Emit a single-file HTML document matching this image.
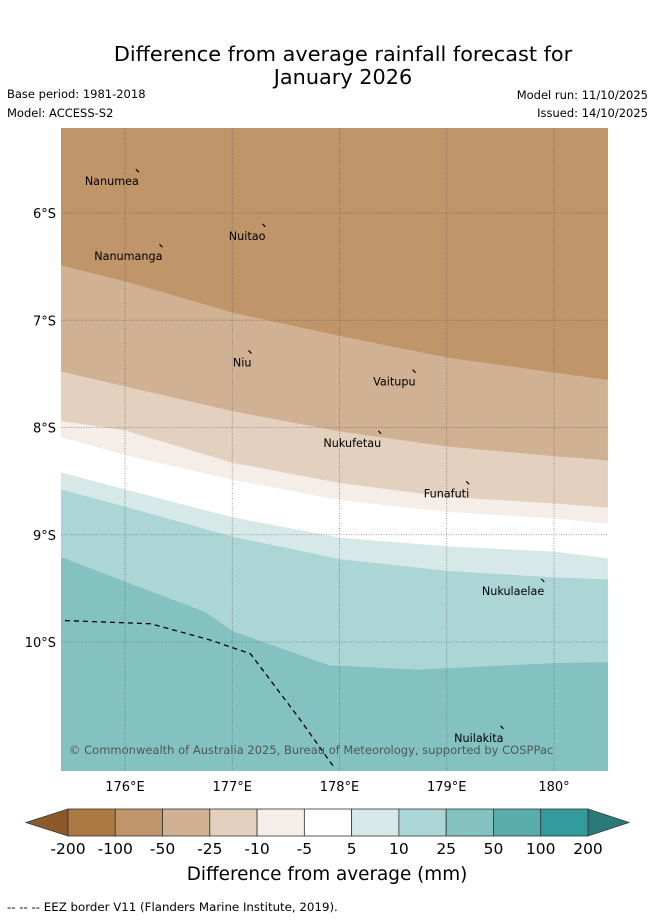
<!DOCTYPE html>
<html><head><meta charset="utf-8">
<style>
body{margin:0;background:#fff;width:655px;height:919px;overflow:hidden;font-family:"Liberation Sans","DejaVu Sans",sans-serif;}
svg text{font-family:"DejaVu Sans","Liberation Sans",sans-serif;}
</style></head>
<body>
<svg id="c" width="655" height="919" xmlns="http://www.w3.org/2000/svg">
<text x="343" y="61" font-size="20.8" text-anchor="middle">Difference from average rainfall forecast for</text>
<text x="343" y="84" font-size="20.8" text-anchor="middle">January 2026</text>
<text x="7" y="98" font-size="11.5">Base period: 1981-2018</text>
<text x="7" y="117" font-size="11.5">Model: ACCESS-S2</text>
<text x="648" y="99" font-size="11.5" text-anchor="end">Model run: 11/10/2025</text>
<text x="648" y="117" font-size="11.5" text-anchor="end">Issued: 14/10/2025</text>
<g id="map"></g>
<g id="legend"></g>
<text x="327" y="880" font-size="18.4" text-anchor="middle">Difference from average (mm)</text>
<text x="7" y="911" font-size="11.8">-- -- -- EEZ border V11 (Flanders Marine Institute, 2019).</text>
</svg>
<script>
const NS="http://www.w3.org/2000/svg";
// data
const lonTicks=[176,177,178,179,180];
const lonLabels=["176°E","177°E","178°E","179°E","180°"];
const latTicks=[6,7,8,9,10];
const latLabels=["6°S","7°S","8°S","9°S","10°S"];
const bLons=[175.4,176,177,178,179,180,180.5];
const boundary1=[6.49,6.64,6.93,7.15,7.35,7.49,7.56];
const boundary2=[7.48,7.62,7.85,8.04,8.18,8.27,8.31];
const boundary3=[7.94,8.03,8.33,8.52,8.65,8.71,8.75];
const boundary4=[8.09,8.26,8.49,8.68,8.79,8.85,8.90];
const boundary5=[8.42,8.58,8.84,9.03,9.11,9.16,9.22];
const boundary6=[8.58,8.74,9.02,9.23,9.34,9.40,9.42];
const lons7=[175.4,176,176.74,177,177.9,178.74,180,180.5];
const boundary7=[9.21,9.44,9.72,9.90,10.22,10.26,10.20,10.19];
const bandColors=["#c0956a","#d1b193","#e3d0be","#f4ede8","#ffffff","#d6e9e8","#acd5d5","#84c2c1"];
const eezLon=[175.44,176.24,176.79,177.17,177.63,177.95];
const eezLat=[9.80,9.83,9.98,10.11,10.72,11.17];
const islands=[["Nanumea",176.12,5.61],["Nuitao",177.3,6.12],["Nanumanga",176.34,6.31],["Niu",177.17,7.3],["Vaitupu",178.7,7.48],["Nukufetau",178.38,8.05],["Funafuti",179.2,8.52],["Nukulaelae",179.9,9.43],["Nuilakita",179.52,10.8]];
const legendVals=["-200","-100","-50","-25","-10","-5","5","10","25","50","100","200"];
const legendColors=["#ad7942","#c0956a","#d1b193","#e3d0be","#f4ede8","#ffffff","#d6e9e8","#acd5d5","#84c2c1","#5aadad","#339b9b"];
// axes
const X0=61,X1=608,Y0=128,Y1=771;
const xs=lon=>125+(lon-176)*107.25;
const ys=lat=>213+(lat-6)*107.25;
function el(t,a,p){const e=document.createElementNS(NS,t);for(const k in a)e.setAttribute(k,a[k]);(p||map).appendChild(e);return e;}
const map=document.getElementById('map');
const cp=el('clipPath',{id:'clip'});el('rect',{x:X0,y:Y0,width:X1-X0,height:Y1-Y0},cp);
const g=el('g',{'clip-path':'url(#clip)'});
const bounds=[null,boundary1,boundary2,boundary3,boundary4,boundary5,boundary6,boundary7];
function linePts(i){if(i===7)return lons7.map((l,j)=>[xs(l),ys(boundary7[j])]);return bLons.map((l,j)=>[xs(l),ys(bounds[i][j])]);}
for(let i=0;i<8;i++){
  let top=i===0?[[X0-5,Y0-5],[X1+5,Y0-5]]:linePts(i);
  let bot=i===7?[[X1+5,Y1+5],[X0-5,Y1+5]]:linePts(i+1).slice().reverse();
  const p=el('polygon',{points:top.concat(bot).map(q=>q.join(',')).join(' '),fill:bandColors[i],stroke:bandColors[i],'stroke-width':0.6},g);
  
  
}
lonTicks.forEach((t,i)=>{const x=xs(t);el('line',{x1:x,y1:Y0,x2:x,y2:Y1,stroke:'#555','stroke-width':0.8,'stroke-dasharray':'1,1.5','stroke-opacity':0.7},g);
 const tx=el('text',{x:x,y:791,'font-size':13,'text-anchor':'middle'});tx.textContent=lonLabels[i];
 
 });
latTicks.forEach((t,i)=>{const y=ys(t);el('line',{x1:X0,y1:y,x2:X1,y2:y,stroke:'#555','stroke-width':0.8,'stroke-dasharray':'1,1.5','stroke-opacity':0.7},g);
 const tx=el('text',{x:56,y:y+5,'font-size':13,'text-anchor':'end'});tx.textContent=latLabels[i];
 
 });
const eez=el('polyline',{points:eezLon.map((l,j)=>xs(l)+','+ys(eezLat[j])).join(' '),fill:'none',stroke:'#000','stroke-width':1.3,'stroke-dasharray':'5,4'},g);


islands.forEach(d=>{const x=xs(d[1]),y=ys(d[2]);
 el('path',{d:`M${x-2} ${y-2} l3 3`,stroke:'#000','stroke-width':1.2},g);
 const t=el('text',{x:x+1,y:y+14,'font-size':11.2,'text-anchor':'end'},g);t.textContent=d[0];
 
 });
const cr=el('text',{x:69,y:754,'font-size':11.5,fill:'#444','fill-opacity':0.85},g);cr.textContent="© Commonwealth of Australia 2025, Bureau of Meteorology, supported by COSPPac";


// legend
const lg=document.getElementById('legend');
const L0=68,L1=588,LY=809,LH=27,w=(L1-L0)/legendColors.length;
el('polygon',{points:`${L0},${LY} ${L0},${LY+LH} 26,${LY+LH/2}`,fill:'#8c5a2a',stroke:'#333','stroke-width':0.8},lg);
el('polygon',{points:`${L1},${LY} ${L1},${LY+LH} 629,${LY+LH/2}`,fill:'#2b7a7a',stroke:'#333','stroke-width':0.8},lg);
legendColors.forEach((c,i)=>{const r=el('rect',{x:L0+i*w,y:LY,width:w,height:LH,fill:c,stroke:'#333','stroke-width':0.8},lg);
 
 });
legendVals.forEach((v,i)=>{const t=el('text',{x:L0+i*w,y:854,'font-size':15.5,'text-anchor':'middle'},lg);t.textContent=v;
 
 });
</script>
</body></html>
